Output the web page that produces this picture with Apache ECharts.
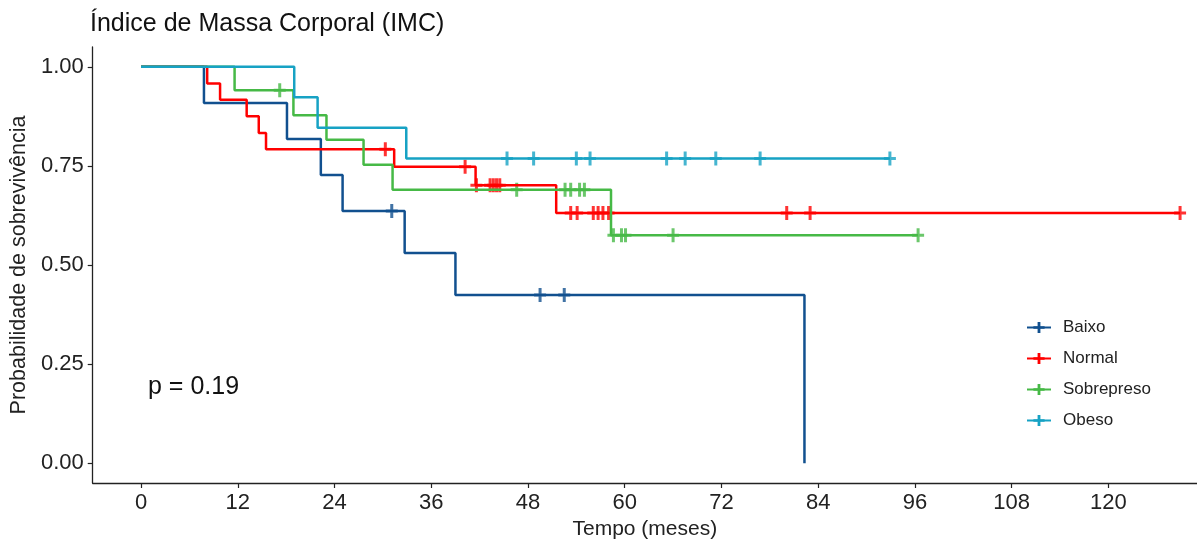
<!DOCTYPE html>
<html>
<head>
<meta charset="utf-8">
<title>IMC</title>
<script src="https://cdn.jsdelivr.net/npm/echarts@6/dist/echarts.min.js"></script>
<style>
	html, body { margin: 0; padding: 0; background: #fff; }
	#main { width: 1197px; height: 545px; }
</style>
</head>
<body>
<div id="main"></div>
<script>
// curvas de Kaplan-Meier por grupo de IMC (tempo em meses)
var groupNames = ['Baixo', 'Normal', 'Sobrepreso', 'Obeso'];
var groupColors = ['#11508F', '#FF0000', '#46B946', '#17A2C4'];

var baixoTime = [0, 7.8, 18.1, 22.3, 25.0, 32.7, 39.0, 82.3];
var baixoSurv = [1, 0.909, 0.818, 0.727, 0.636, 0.530, 0.424, 0];
var baixoCensorTime = [31.1, 49.5, 52.5];
var baixoCensorSurv = [0.636, 0.424, 0.424];

var normalTime = [0, 8.2, 9.8, 13.1, 14.6, 15.5, 31.4, 41.5, 51.5, 128.9];
var normalSurv = [1, 0.958, 0.917, 0.875, 0.833, 0.792, 0.748, 0.701, 0.631, 0.631];
var normalCensorTime = [30.3, 40.2, 41.6, 43.3, 43.7, 44.1, 44.5, 53.3, 54.1, 56.1, 56.7, 57.3, 58.0, 80.1, 83.0, 128.9];
var normalCensorSurv = [0.792, 0.748, 0.701, 0.701, 0.701, 0.701, 0.701, 0.631, 0.631, 0.631, 0.631, 0.631, 0.631, 0.631, 0.631, 0.631];

var sobreTime = [0, 11.6, 18.9, 23.0, 27.6, 31.2, 58.3, 96.4];
var sobreSurv = [1, 0.941, 0.878, 0.816, 0.753, 0.690, 0.575, 0.575];
var sobreCensorTime = [17.2, 46.6, 52.6, 53.3, 54.4, 55.0, 58.6, 59.6, 60.1, 66.0, 96.4];
var sobreCensorSurv = [0.941, 0.690, 0.690, 0.690, 0.690, 0.690, 0.575, 0.575, 0.575, 0.575, 0.575];

var obesoTime = [0, 19.0, 21.9, 32.9, 92.9];
var obesoSurv = [1, 0.923, 0.846, 0.769, 0.769];
var obesoCensorTime = [45.4, 48.7, 54.0, 55.7, 65.2, 67.5, 71.3, 76.8, 92.9];
var obesoCensorSurv = [0.769, 0.769, 0.769, 0.769, 0.769, 0.769, 0.769, 0.769, 0.769];

var xTicks = [0, 12, 24, 36, 48, 60, 72, 84, 96, 108, 120];
var yTicks = [0, 0.25, 0.5, 0.75, 1];
var pValueText = 'p = 0.19';

var FONT = '"Liberation Sans", Arial, sans-serif';
// cruz grossa para as censuras
var plusPath = 'path://M4.5,0H7.5V5.5H12V8.5H7.5V14H4.5V8.5H0V5.5H4.5Z';

function pairs(xs, ys) {
	var out = [];
	for (var i = 0; i < xs.length; i++) {
		out.push([xs[i], ys[i]]);
	}
	return out;
}

var curves = [
	pairs(baixoTime, baixoSurv),
	pairs(normalTime, normalSurv),
	pairs(sobreTime, sobreSurv),
	pairs(obesoTime, obesoSurv)
];
var censors = [
	pairs(baixoCensorTime, baixoCensorSurv),
	pairs(normalCensorTime, normalCensorSurv),
	pairs(sobreCensorTime, sobreCensorSurv),
	pairs(obesoCensorTime, obesoCensorSurv)
];

var series = [];
groupNames.forEach(function(name, i) {
	series.push({
		name: name,
		type: 'line',
		step: 'end',
		data: curves[i],
		symbol: plusPath,
		showSymbol: false,
		color: groupColors[i],
		lineStyle: { width: 2.5, color: groupColors[i] },
		silent: true
	});
});
groupNames.forEach(function(name, i) {
	series.push({
		name: name,
		type: 'scatter',
		data: censors[i],
		symbol: plusPath,
		symbolSize: [12, 14],
		itemStyle: { color: groupColors[i] },
		silent: true
	});
});

var axisCommon = {
	type: 'value',
	axisLine: { onZero: false, lineStyle: { color: '#222', width: 1.3 } },
	axisTick: { show: true, length: 5, lineStyle: { color: '#222', width: 1.2 } },
	splitLine: { show: false },
	nameLocation: 'middle',
	nameTextStyle: { fontFamily: FONT, fontSize: 21, color: '#222' }
};

var myChart = echarts.init(document.getElementById('main'));
var option = {
	animation: false,
	backgroundColor: '#fff',
	title: {
		text: 'Índice de Massa Corporal (IMC)',
		left: 90,
		top: 12,
		padding: 0,
		textStyle: { fontFamily: FONT, fontSize: 25, fontWeight: 'normal', color: '#111' }
	},
	legend: {
		orient: 'vertical',
		left: 1026,
		top: 319,
		padding: 0,
		itemWidth: 24,
		itemHeight: 14,
		itemGap: 14,
		data: groupNames,
		textStyle: { fontFamily: FONT, fontSize: 17, color: '#222', padding: [0, 0, 0, 7] }
	},
	grid: { left: 91, top: 47, right: 0, bottom: 62 },
	xAxis: echarts.util.merge({
		min: -6.0,
		max: 131,
		name: 'Tempo (meses)',
		nameGap: 36,
		axisTick: { customValues: xTicks },
		axisLabel: {
			customValues: xTicks,
			margin: 9,
			fontFamily: FONT,
			fontSize: 22,
			color: '#222'
		}
	}, axisCommon),
	yAxis: echarts.util.merge({
		min: -0.05,
		max: 1.05,
		name: 'Probabilidade de sobrevivência',
		nameGap: 58,
		nameTextStyle: { fontSize: 21.5 },
		axisTick: { customValues: yTicks },
		axisLabel: {
			customValues: yTicks,
			margin: 9,
			fontFamily: FONT,
			fontSize: 22,
			color: '#222',
			formatter: function(v) { return v.toFixed(2); }
		}
	}, axisCommon),
	graphic: [{
		type: 'text',
		left: 148,
		top: 375,
		style: { text: pValueText, fontFamily: FONT, fontSize: 25, fill: '#111' }
	}],
	series: series
};
myChart.setOption(option);
</script>
</body>
</html>
